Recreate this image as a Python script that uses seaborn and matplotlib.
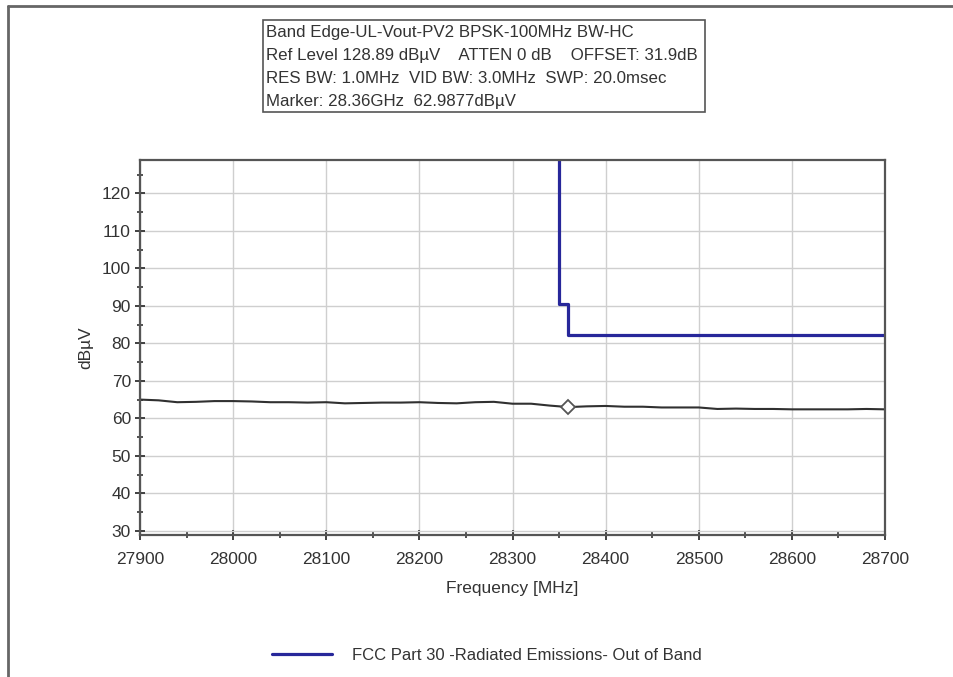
import numpy as np
import pandas as pd
import matplotlib.pyplot as plt
import matplotlib.ticker as mticker
from matplotlib.lines import Line2D
from matplotlib.patches import Rectangle
import seaborn as sns

# measured trace (MHz, dBuV)
freq = [27900, 27920, 27940, 27960, 27980, 28000, 28020, 28040, 28060, 28080,
        28100, 28120, 28140, 28160, 28180, 28200, 28220, 28240, 28260, 28280,
        28300, 28320, 28340, 28360, 28380, 28400, 28420, 28440, 28460, 28480,
        28500, 28520, 28540, 28560, 28580, 28600, 28620, 28640, 28660, 28680, 28700]
level = [65.0, 64.8, 64.3, 64.4, 64.6, 64.6, 64.5, 64.3, 64.3, 64.2,
         64.3, 64.0, 64.1, 64.2, 64.2, 64.3, 64.1, 64.0, 64.3, 64.4,
         63.9, 63.9, 63.4, 63.0, 63.2, 63.3, 63.1, 63.1, 62.9, 62.9,
         62.9, 62.5, 62.6, 62.5, 62.5, 62.4, 62.4, 62.4, 62.4, 62.5, 62.4]

# limit line (FCC Part 30)
limit_freq = [28350, 28350, 28360, 28360, 28700]
limit_level = [140.0, 90.4, 90.4, 82.3, 82.3]

marker_freq = 28360
marker_level = 62.9877

ref_level = 128.89
header = ["Band Edge-UL-Vout-PV2 BPSK-100MHz BW-HC",
          "Ref Level 128.89 dB\u00b5V    ATTEN 0 dB    OFFSET: 31.9dB",
          "RES BW: 1.0MHz  VID BW: 3.0MHz  SWP: 20.0msec",
          "Marker: 28.36GHz  62.9877dB\u00b5V"]
legend_label = "FCC Part 30 -Radiated Emissions- Out of Band"

sns.set_theme(style="whitegrid")
plt.rcParams['font.family'] = ['Liberation Sans', 'DejaVu Sans']

fig = plt.figure(figsize=(9.54, 6.77), dpi=100)
fig.patch.set_facecolor('white')
ax = fig.add_axes([140 / 954, 1 - 535 / 677, 745 / 954, 375 / 677])

trace_df = pd.DataFrame({"freq": freq, "level": level})
limit_df = pd.DataFrame({"freq": limit_freq, "level": limit_level})

sns.lineplot(data=trace_df, x="freq", y="level", ax=ax, color="#303030",
             linewidth=1.5, sort=False, estimator=None)
sns.lineplot(data=limit_df, x="freq", y="level", ax=ax, color="#27279a",
             linewidth=2.3, sort=False, estimator=None, label=legend_label)
ax.plot([marker_freq], [marker_level], marker='D', markersize=7,
        markerfacecolor='white', markeredgecolor='#555555', markeredgewidth=1.3)

ax.set_xlim(27900, 28700)
ax.set_ylim(ref_level - 100, ref_level)
ax.xaxis.set_major_locator(mticker.MultipleLocator(100))
ax.xaxis.set_minor_locator(mticker.MultipleLocator(50))
ax.yaxis.set_major_locator(mticker.MultipleLocator(10))
ax.yaxis.set_minor_locator(mticker.MultipleLocator(5))
ax.set_yticks(np.arange(30, 121, 10))

ax.grid(True, which='major', color='#cfcfcf', linewidth=1.0)
ax.grid(False, which='minor')
ax.set_facecolor('white')
for side in ['left', 'bottom', 'top', 'right']:
    ax.spines[side].set_color('#555555')
    ax.spines[side].set_linewidth(1.6)
ax.tick_params(which='major', direction='inout', length=7, width=1.3,
               color='#333333', labelsize=12.5, labelcolor='#333333',
               left=True, bottom=True)
ax.tick_params(axis='x', which='major', pad=9)
ax.tick_params(axis='y', which='major', pad=3)
ax.tick_params(which='minor', direction='inout', length=5, width=1.2,
               color='#333333', left=True, bottom=True)

ax.set_xlabel("Frequency [MHz]", fontsize=12.5, color='#333333', labelpad=10)
ax.set_ylabel("dB\u00b5V", fontsize=12.5, color='#333333', labelpad=6)

# legend below the chart
handles, labels = ax.get_legend_handles_labels()
ax.get_legend().remove()
fig.legend(handles, labels, loc='center', bbox_to_anchor=(0.51, 1 - 655 / 677),
           frameon=False, fontsize=12, handlelength=3.6, handletextpad=1.2,
           labelcolor='#333333')

# header box
fig.add_artist(Rectangle((263 / 954, 1 - 112 / 677), 442 / 954, 92 / 677,
                         transform=fig.transFigure, fill=False,
                         edgecolor='#555555', linewidth=1.2))
for i, line in enumerate(header):
    fig.text(266 / 954, 1 - (33 + i * 22.7) / 677, line, fontsize=12.2,
             color='#333333', va='center', ha='left')

# window frame
fig.add_artist(Line2D([8 / 954, 8 / 954], [0, 1 - 6 / 677], transform=fig.transFigure,
                      color='#666666', linewidth=2))
fig.add_artist(Line2D([8 / 954, 1], [1 - 6 / 677, 1 - 6 / 677], transform=fig.transFigure,
                      color='#666666', linewidth=2))

fig.savefig("out.png", dpi=100)
